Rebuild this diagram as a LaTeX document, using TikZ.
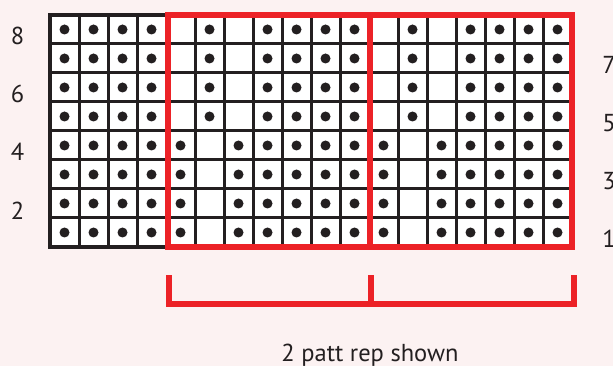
\documentclass[tikz,border=0pt]{standalone}
\usepackage{fontspec}
\setmainfont{PT Sans}
\definecolor{bg}{HTML}{FCF2F2}
\definecolor{ink}{HTML}{231F20}
\definecolor{rd}{HTML}{EC2227}
\begin{document}
\begin{tikzpicture}[x=1pt,y=-1pt,
  lbl/.style={font=\fontsize{24.5}{28}\selectfont,text=ink,anchor=base,inner sep=0pt},
  gridline/.style={draw=ink,line width=3pt},
  dotmark/.style={fill=ink},
  redline/.style={draw=rd,line width=6pt}]
\fill[bg] (0,0) rectangle (613,366);
\useasboundingbox (0,0) rectangle (613,366);
% grid cells
\fill[white] (50,15) rectangle (572,247);
\foreach \c in {1,...,18}{
  \foreach \r in {1,...,8}{
    \pgfmathtruncatemacro{\k}{mod(\c-5+70,7)}
    \pgfmathtruncatemacro{\hasdot}{\c<5 ? 1 : (\r<5 ? (\k==1 ? 0 : 1) : ((\k==0 || \k==2) ? 0 : 1))}
    \ifnum\hasdot=1
      \fill[dotmark] ({50+(\c-0.5)*29},{247-(\r-0.5)*29}) circle (5);
    \fi
  }
}
\foreach \i in {0,...,18}{\draw[gridline] ({50+\i*29},15) -- ({50+\i*29},247);}
\foreach \j in {0,...,8}{\draw[gridline] (50,{15+\j*29}) -- (572,{15+\j*29});}
\draw[ink,line width=3.5pt] (50,15) rectangle (572,247);
% red repeat boxes
\draw[redline] (168,15) rectangle (572,247);
\draw[redline] (369.5,15) -- (369.5,247);
% row numbers
\foreach \r in {2,4,6,8}{\node[lbl] (L\r) at (17.5,{247-(\r-0.5)*29+15.5}) {\r};}
\foreach \r in {1,3,5,7}{\node[lbl] (R\r) at (609,{247-(\r-0.5)*29+15}) {\r};}
% bracket
\coordinate (b1) at (168.5,275);
\coordinate (b2) at (168.5,303.5);
\coordinate (b3) at (573.5,303.5);
\coordinate (b4) at (573.5,275);
\coordinate (m1) at (371,275);
\coordinate (m2) at (371,303.5);
\draw[redline,line join=miter] (b1) -- (b2) -- (b3) -- (b4);
\draw[redline] (m1) -- (m2);
\node[lbl] (cap) at (370,361.5) {2 patt rep shown};
\end{tikzpicture}
\end{document}
